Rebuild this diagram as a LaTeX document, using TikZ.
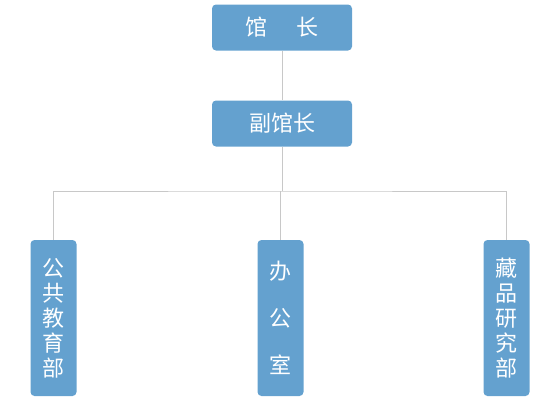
\documentclass[tikz,border=0pt]{standalone}
\usepackage{fontspec}
\setmainfont{Noto Sans CJK SC}
\usetikzlibrary{positioning}
\definecolor{boxblue}{HTML}{64A1CF}
\definecolor{linegray}{HTML}{C8C8C8}

\begin{document}
\begin{tikzpicture}[x=1pt,y=-1pt]
\tikzset{
  topbox/.style={fill=boxblue,rounded corners=4pt,minimum width=140pt,minimum height=46pt,inner sep=0pt,text=white,font=\fontsize{22}{25}\selectfont},
  deptbox/.style={fill=boxblue,rounded corners=4pt,minimum width=46pt,minimum height=156pt,inner sep=0pt,text=white,align=center,font=\fontsize{22}{25}\selectfont},
  link/.style={draw=linegray,line width=0.8pt}
}
\useasboundingbox (0,0) rectangle (560,400);

\node[topbox] (guan) at (282,27.5) {馆\hspace{30pt}长};
\node[topbox] (fuguan) at (282,123.5) {副馆长};
\node[deptbox] (jiaoyu) at (53.5,318) {公\\共\\教\\育\\部};
\node[deptbox,font=\fontsize{22}{47}\selectfont] (bangong) at (280.5,318) {办\\公\\室};
\node[deptbox] (cangpin) at (506.5,318) {藏\\品\\研\\究\\部};

\coordinate (bar) at (280.5,191);

\draw[link] (guan) -- (fuguan);
\draw[link] (fuguan.south) -- (fuguan.south |- bar);
\draw[link] (jiaoyu.north) |- (bar) -| (cangpin.north);
\draw[link] (bar) -- (bangong.north);
\end{tikzpicture}
\end{document}
